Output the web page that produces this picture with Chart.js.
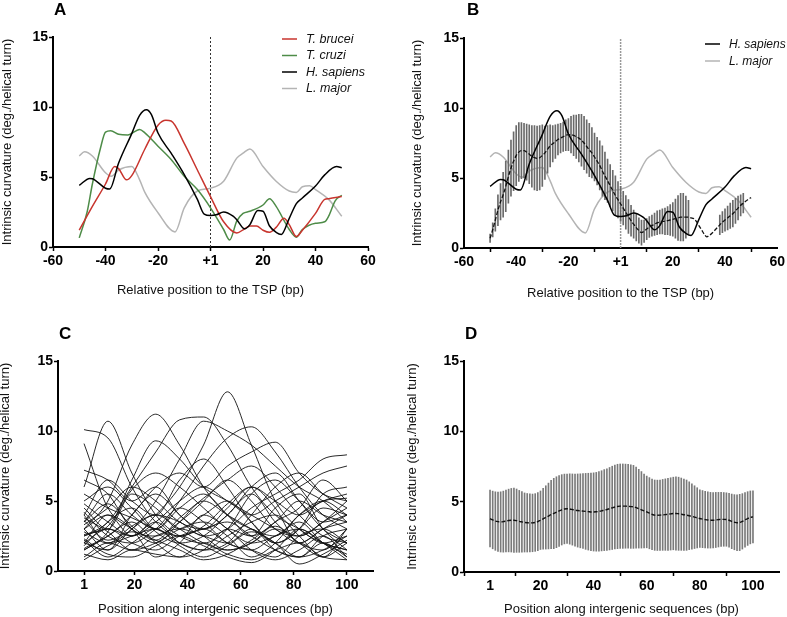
<!DOCTYPE html>
<html><head><meta charset="utf-8">
<script src="https://cdn.jsdelivr.net/npm/chart.js@4/dist/chart.umd.min.js"></script>
<style>
html,body{margin:0;padding:0;background:#fff;}
body{width:787px;height:617px;position:relative;overflow:hidden;}
.p{position:absolute;}
</style></head><body>
<div class="p" style="left:0px;top:0px;width:390px;height:310px"><canvas id="cA"></canvas></div>
<div class="p" style="left:390px;top:0px;width:397px;height:310px"><canvas id="cB"></canvas></div>
<div class="p" style="left:-2px;top:300px;width:392px;height:317px"><canvas id="cC"></canvas></div>
<div class="p" style="left:390px;top:300px;width:397px;height:317px"><canvas id="cD"></canvas></div>
<script>
// ---------- DATA ----------
// Panel A / B : intrinsic curvature around the TSP
const bruceiX = [-50,-45,-40,-36.5,-35,-32,-30,-25,-20,-17,-15,-10,-5,0,5,10,13,15,17.5,20,22.5,25,28,30,32.7,35,40,43.5,45,50];
const bruceiY = [1.2,2.9,4.5,5.75,5.6,4.8,5.1,7.0,8.7,9.05,9.0,7.4,5.5,3.6,1.8,1.0,1.3,1.5,1.5,1.2,1.05,1.4,2.05,1.6,0.75,1.2,2.4,3.4,3.45,3.6];
const cruziX = [-50,-47,-45,-42,-40,-38,-35,-31.5,-27,-25,-20,-15,-10,-5,0,5,7.3,10,12.4,15,20,22.5,25,30,32.7,35,40,43.5,45,47.5,50];
const cruziY = [0.65,2.5,4.5,7.0,8.2,8.3,8.05,8.0,8.4,8.15,7.2,6.25,5.05,4.1,2.8,1.25,0.5,1.85,2.4,2.55,3.0,3.45,2.9,1.25,0.7,1.25,1.7,1.8,2.2,3.3,3.7];
const sapiensX = [-50,-46,-45,-40,-38.4,-35,-30,-27,-24.4,-22.5,-20,-15,-10,-5,-2.4,0,2.2,5,8.6,10,13,15,18,20,22.5,25,27,30,32.7,35,40,43.5,48,50];
const sapiensY = [4.4,4.9,4.88,4.2,4.14,6.0,8.1,9.4,9.8,9.45,8.14,6.7,5.17,3.4,2.35,2.25,2.3,2.5,2.2,1.95,1.3,1.6,2.6,2.55,1.5,1.05,0.9,2.05,3.1,3.5,4.35,5.15,5.75,5.65];
const majorX = [-50,-48,-45,-40,-37.8,-35,-30,-27,-25,-20,-13.5,-10,-5,0,5,10,12.4,15,20,25,30,32.7,35,37.8,40,45,50];
const majorY = [6.5,6.8,6.5,5.3,5.05,5.5,5.75,4.8,3.9,2.45,1.08,2.8,4.0,4.2,4.7,6.35,6.7,7.0,5.75,4.7,4.0,3.9,4.3,4.38,4.1,3.4,2.2];

// Panel B : mean (dashed) and SD at each position -50..50 (null = no bar)
const bPos = Array.from({length:101},(_, i)=>i-50);
const bMean = [0.7,1.3,2.0,2.7,3.3,3.8,4.4,5.1,5.7,6.2,6.6,6.85,6.95,6.95,6.85,6.7,6.55,6.45,6.4,6.45,
  6.6,6.8,7.05,7.3,7.45,7.6,7.75,7.85,7.95,8.05,8.1,8.1,8.05,7.95,7.85,7.7,7.5,7.25,7.0,6.8,
  6.5,6.2,5.9,5.5,5.15,4.8,4.45,4.1,3.75,3.45,3.15,2.85,2.55,2.25,1.95,1.7,1.45,1.25,1.1,1.2,
  1.35,1.5,1.6,1.7,1.8,1.85,1.9,1.9,1.95,2.0,2.05,2.1,2.15,2.2,2.2,2.2,2.2,2.15,2.1,1.9,
  1.6,1.3,1.0,0.8,0.9,1.05,1.25,1.45,1.65,1.85,2.0,2.15,2.3,2.45,2.65,2.85,3.05,3.2,3.35,3.5,3.6];
const bSD = [0.3,0.5,0.8,1.1,1.3,1.6,1.8,1.9,2.0,2.1,2.15,2.1,2.0,1.95,2.0,2.1,2.2,2.3,2.3,2.3,
  2.2,1.9,1.7,1.5,1.3,1.2,1.1,1.05,1.05,1.1,1.15,1.3,1.45,1.55,1.7,1.85,1.9,1.9,1.9,1.8,
  1.7,1.7,1.75,1.8,1.7,1.55,1.5,1.45,1.4,1.3,1.25,1.2,1.2,1.2,1.1,1.0,0.95,0.9,0.9,0.8,
  0.75,0.75,0.75,0.8,0.85,0.85,0.9,0.95,1.0,1.1,1.2,1.4,1.6,1.7,1.7,1.5,1.2,null,null,null,
  null,null,null,null,null,null,null,null,0.7,0.75,0.8,0.85,0.9,0.95,0.9,0.85,0.75,0.7,null,null,null];

// Panel C : individual intergenic curvature profiles
const cPos = [1,10,19,28,37,46,55,64,73,82,91,100];
const cCurves = [
  [10.1,9.5,6.0,3.5,2.5,3.0,2.0,1.5,2.5,3.0,2.0,1.5],
  [9.1,4.5,3.0,2.0,3.5,5.0,4.0,3.0,2.0,1.0,2.5,3.0],
  [6.0,10.7,7.0,4.0,2.5,2.0,3.0,5.5,6.5,5.0,3.5,4.0],
  [3.0,5.0,9.0,11.2,9.0,6.0,4.0,3.0,2.5,4.0,5.0,5.5],
  [2.5,3.5,6.0,8.5,10.8,11.0,9.0,6.0,4.0,3.0,2.0,2.5],
  [4.0,2.0,3.0,5.0,8.0,10.7,10.0,9.0,7.5,6.0,5.0,3.5],
  [2.0,3.0,2.5,4.0,6.0,9.0,12.8,9.0,5.0,3.0,2.0,1.5],
  [3.5,5.5,4.0,3.0,5.0,7.5,9.5,10.3,8.5,6.0,4.0,3.0],
  [1.5,2.5,4.0,6.0,7.0,6.0,7.5,8.5,9.2,7.0,5.5,5.0],
  [2.0,1.5,3.0,4.0,3.5,2.5,3.0,4.5,5.5,6.5,8.0,8.3],
  [3.0,4.0,2.5,3.5,5.0,6.0,5.0,4.0,5.0,6.0,7.0,7.5],
  [7.2,6.5,5.0,6.0,4.0,3.0,4.0,6.0,7.0,5.0,3.0,2.0],
  [1.0,2.0,1.5,2.5,3.0,2.5,2.0,3.0,1.5,1.0,2.0,1.0],
  [4.5,3.0,5.5,4.5,3.0,4.0,5.0,3.5,2.0,3.0,4.5,4.0],
  [2.2,1.0,2.0,3.0,2.0,1.5,2.5,3.5,4.0,2.5,1.0,2.0],
  [3.8,2.8,1.5,2.0,3.0,3.5,2.5,1.0,2.0,4.0,5.0,4.0],
  [1.8,3.5,4.5,2.8,2.0,2.5,4.0,5.5,3.5,2.0,1.5,3.0],
  [5.0,6.0,4.5,3.0,4.5,5.5,4.0,2.5,3.5,5.0,4.0,3.5],
  [2.8,2.0,3.2,4.0,3.0,2.0,1.5,2.0,3.0,2.5,3.5,4.5],
  [1.2,0.8,1.5,1.2,1.0,2.0,1.2,0.8,1.5,2.0,1.0,0.8],
  [3.3,4.5,6.0,5.0,3.5,3.0,4.5,6.0,5.0,4.0,5.0,5.2],
  [2.5,3.0,2.0,1.5,2.5,3.0,3.5,2.5,1.5,1.0,1.5,2.5],
  [4.2,2.5,2.0,3.0,4.5,3.5,2.0,1.5,1.0,2.5,3.0,2.0],
  [1.5,2.5,3.5,2.0,1.0,1.5,3.0,2.5,4.5,5.5,3.0,1.5],
  [6.5,5.5,3.0,2.5,3.5,5.0,6.5,5.0,3.0,2.5,3.5,5.0],
  [3.0,1.5,4.0,5.5,4.0,2.5,1.5,2.0,3.5,4.5,6.5,5.0],
  [2.0,4.0,3.0,1.0,2.0,4.0,3.0,1.5,0.8,1.5,2.5,1.0],
  [4.8,3.5,2.5,3.5,2.0,1.5,2.0,4.0,6.0,7.0,5.5,4.5],
  [3.5,4.8,3.2,2.2,3.8,5.2,6.5,7.5,6.0,4.0,2.5,2.0],
  [0.8,1.8,2.5,3.0,1.8,1.0,1.8,2.8,2.0,0.5,1.2,2.2],
  [2.6,3.2,5.8,7.0,6.0,4.5,3.0,2.0,2.5,3.5,2.0,1.2],
  [5.5,4.5,3.8,3.0,2.5,3.2,4.8,6.0,4.5,2.0,3.0,3.5],
  [3.6,2.2,2.8,2.2,1.5,0.8,1.2,2.2,3.2,2.0,1.0,3.0],
  [1.6,2.8,6.5,9.3,8.0,6.0,5.0,4.0,3.0,2.0,3.0,4.0],
  [4.0,6.5,5.0,4.0,6.5,8.0,6.0,3.5,2.0,3.0,5.5,6.0],
  [2.3,1.2,1.0,1.8,2.5,1.8,1.0,0.6,1.5,3.0,2.0,0.8]
];

// Panel D : mean and SD at positions 1..100
const dPos = Array.from({length:100},(_, i)=>i+1);
const dMean = [3.80,3.70,3.62,3.58,3.56,3.58,3.62,3.66,3.68,3.68,3.65,3.60,3.56,3.52,3.50,3.49,3.49,3.52,3.58,3.68,
  3.78,3.88,3.98,4.08,4.16,4.25,4.34,4.42,4.48,4.50,4.48,4.44,4.40,4.37,4.35,4.33,4.31,4.29,4.27,4.27,
  4.28,4.31,4.35,4.40,4.44,4.50,4.56,4.62,4.66,4.68,4.68,4.68,4.67,4.65,4.63,4.58,4.50,4.42,4.34,4.27,
  4.18,4.10,4.04,4.03,4.04,4.06,4.08,4.10,4.13,4.16,4.16,4.14,4.11,4.07,4.04,4.00,3.95,3.90,3.85,3.80,
  3.76,3.72,3.70,3.68,3.68,3.70,3.72,3.74,3.74,3.73,3.68,3.60,3.54,3.50,3.52,3.60,3.70,3.80,3.88,3.92];
const dSD = [2.02,2.05,2.08,2.11,2.14,2.17,2.2,2.23,2.26,2.28,2.25,2.2,2.15,2.1,2.08,2.06,2.05,2.05,2.06,2.08,
  2.16,2.25,2.34,2.43,2.5,2.52,2.52,2.5,2.48,2.47,2.5,2.53,2.57,2.6,2.63,2.66,2.7,2.73,2.76,2.78,
  2.8,2.83,2.85,2.88,2.9,2.93,2.96,2.98,3.0,3.0,3.0,2.99,2.98,2.97,2.95,2.88,2.8,2.72,2.63,2.55,
  2.53,2.51,2.5,2.5,2.5,2.52,2.54,2.56,2.57,2.58,2.6,2.6,2.57,2.53,2.5,2.41,2.32,2.23,2.14,2.05,
  2.03,2.01,2.0,1.98,1.97,1.96,1.94,1.93,1.91,1.9,1.92,1.94,1.96,1.98,2.0,1.97,1.94,1.91,1.88,1.85];

const yTitle = 'Intrinsic curvature (deg./helical turn)';
const xTitleTop = 'Relative position to the TSP (bp)';
const xTitleBottom = 'Position along intergenic sequences (bp)';

// ---------- HELPERS ----------
const FF = '"Liberation Sans", Arial, Helvetica, sans-serif';
const pts = (xs, ys) => xs.map((x,i)=>({x, y: ys[i]}));
const errBars = (xs, m, s) => xs.map((x,i)=> s[i]==null ? null : {x, y:[m[i]-s[i], m[i]+s[i]]}).filter(Boolean);

const panelDecor = {
  id: 'panelDecor',
  afterDraw(chart, args, opts) {
    const ctx = chart.ctx;
    ctx.save();
    if (opts.letter) {
      ctx.font = 'bold 17px ' + FF; ctx.fillStyle = '#000'; ctx.textBaseline = 'alphabetic';
      ctx.fillText(opts.letter, opts.lx, opts.ly);
    }
    if (opts.legend) {
      const L = opts.legend; let y = L.y;
      chart.data.datasets.forEach(ds => {
        if (!ds.inLegend) return;
        ctx.setLineDash([]); ctx.strokeStyle = ds.borderColor; ctx.lineWidth = 1.5;
        ctx.beginPath(); ctx.moveTo(L.x, y); ctx.lineTo(L.x + 15, y); ctx.stroke();
        ctx.font = 'italic ' + L.size + 'px ' + FF; ctx.fillStyle = '#111'; ctx.textBaseline = 'middle';
        ctx.fillText(ds.label, L.x + 15 + L.gap, y + 0.5);
        y += L.dy;
      });
    }
    ctx.restore();
  }
};
Chart.register(panelDecor);

function axes(o) {
  const common = {
    border: {display:true, color:'#000', width:2},
    grid: {display:true, drawOnChartArea:false, drawTicks:true, tickLength:4, tickWidth:1.5, tickColor:'#000'},
  };
  return {
    x: Object.assign({}, common, {
      type:'linear', min:o.xmin, max:o.xmax, offset:false,
      ticks: Object.assign({color:'#000', font:{family:FF, size:14, weight:'bold'}, padding:2, maxRotation:0, autoSkip:false}, o.xticks||{}),
      afterBuildTicks: o.xBuild,
      title: {display:true, text:o.xTitle, color:'#111', font:{family:FF, size:13}, padding:{top:0,bottom:0}},
      afterFit: s => { s.height = o.xh; }
    }),
    y: Object.assign({}, common, {
      type:'linear', min:0, max:15,
      ticks: {stepSize:5, color:'#000', font:{family:FF, size:14, weight:'bold'}, padding:1},
      title: {display:true, text:yTitle, color:'#111', font:{family:FF, size:13}, padding:{top:0,bottom:0}},
      afterFit: s => { s.width = o.yw; }
    })
  };
}

function baseOpts(o) {
  return {
    responsive:true, maintainAspectRatio:false, animation:false,
    layout:{padding:o.pad},
    plugins:{legend:{display:false}, tooltip:{enabled:false}, panelDecor:o.decor},
    elements:{point:{radius:0}},
    scales: axes(o)
  };
}
const lineDs = (label, xs, ys, color, extra) => Object.assign({
  type:'line', label, data: pts(xs, ys), borderColor: color, borderWidth:1.5,
  cubicInterpolationMode:'monotone', pointRadius:0, fill:false
}, extra||{});
const tspTick = {stepSize:20, callback: v => v === 0 ? '+1' : String(v)};
const bottomBuild = s => { s.ticks = [1,20,40,60,80,100].map(v=>({value:v})); };

// ---------- PANEL A ----------
new Chart(document.getElementById('cA'), {
  type:'line',
  data:{datasets:[
    lineDs('T. brucei', bruceiX, bruceiY, '#c8352e', {inLegend:true, order:2}),
    lineDs('T. cruzi', cruziX, cruziY, '#4e8c48', {inLegend:true, order:3}),
    lineDs('H. sapiens', sapiensX, sapiensY, '#000000', {inLegend:true, order:1}),
    lineDs('L. major', majorX, majorY, '#b4b4b4', {inLegend:true, order:4}),
    {type:'line', label:'TSP', data:[{x:0,y:0},{x:0,y:15}], borderColor:'#333', borderWidth:1, borderDash:[2,2], pointRadius:0, order:5}
  ]},
  options: baseOpts({xmin:-60, xmax:60, xticks:tspTick, xTitle:xTitleTop, xh:51, yw:53,
    pad:{left:0, top:37, right:22, bottom:12},
    decor:{letter:'A', lx:54, ly:15, legend:{x:282, y:39, dy:16.5, gap:9, size:12.5}}})
});

// ---------- PANEL B ----------
new Chart(document.getElementById('cB'), {
  type:'line',
  data:{datasets:[
    lineDs('H. sapiens', sapiensX, sapiensY, '#000000', {inLegend:true, order:1}),
    lineDs('L. major', majorX, majorY, '#b4b4b4', {inLegend:true, order:3}),
    lineDs('Mean', bPos, bMean, '#111', {borderDash:[4,2], borderWidth:1.3, order:0}),
    {type:'bar', label:'SD', data: errBars(bPos, bMean, bSD), backgroundColor:'#6a6a6a', barThickness:1, grouped:false, order:2},
    {type:'line', label:'TSP', data:[{x:0,y:0},{x:0,y:15}], borderColor:'#999', borderWidth:1.5, borderDash:[2,1], pointRadius:0, order:5}
  ]},
  options: baseOpts({xmin:-60, xmax:60, xticks:tspTick, xTitle:xTitleTop, xh:53, yw:54,
    pad:{left:20, top:38, right:8, bottom:9},
    decor:{letter:'B', lx:77, ly:15, legend:{x:315, y:44, dy:17, gap:9, size:12}}})
});

// ---------- PANEL C ----------
new Chart(document.getElementById('cC'), {
  type:'line',
  data:{datasets: cCurves.map((c,i)=> lineDs('seq'+(i+1), cPos, c, '#111', {borderWidth:0.9}))},
  options: baseOpts({xmin:-8.8, xmax:109.8, xBuild:bottomBuild, xticks:{callback:v=>String(v)}, xTitle:xTitleBottom, xh:46, yw:60,
    pad:{left:0, top:61, right:17, bottom:0},
    decor:{letter:'C', lx:61, ly:39}})
});

// ---------- PANEL D ----------
new Chart(document.getElementById('cD'), {
  type:'line',
  data:{datasets:[
    lineDs('Mean', dPos, dMean, '#111', {borderDash:[4,2], borderWidth:1.4, order:0}),
    {type:'bar', label:'SD', data: errBars(dPos, dMean, dSD), backgroundColor:'#7a7a7a', barThickness:1, grouped:false, order:1}
  ]},
  options: baseOpts({xmin:-8.8, xmax:109.8, xBuild:bottomBuild, xticks:{callback:v=>String(v)}, xTitle:xTitleBottom, xh:45, yw:59,
    pad:{left:15, top:61, right:8, bottom:0},
    decor:{letter:'D', lx:75, ly:39}})
});
</script>
</body></html>
